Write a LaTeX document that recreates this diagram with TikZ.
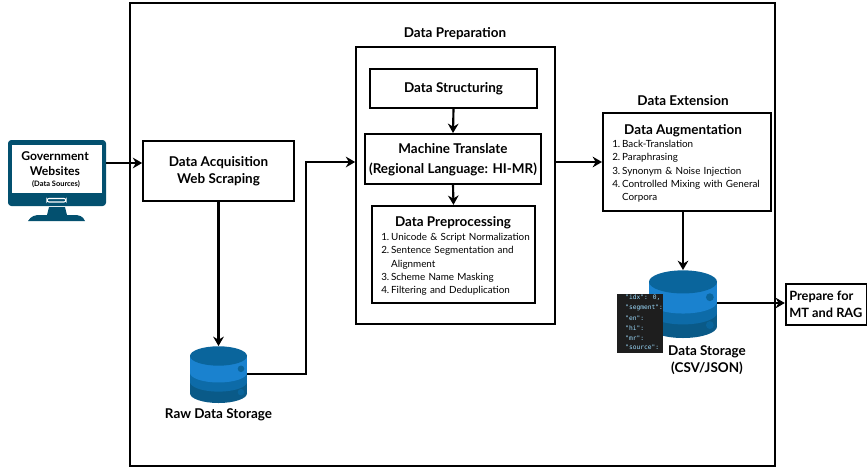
\documentclass[tikz,border=0pt]{standalone}
\usepackage{fontspec}
\setmainfont{Lato}
\newfontfamily\jsonfont{DejaVu Sans Mono}
\usetikzlibrary{arrows.meta,calc}
\definecolor{monblue}{HTML}{03506F}
\definecolor{dbtop}{HTML}{0A659C}
\definecolor{dbmid}{HTML}{1A82CF}
\definecolor{dblay}{HTML}{0D6BA8}
\definecolor{dblow}{HTML}{0A5A88}
\definecolor{jsonbg}{HTML}{1E1E1E}
\definecolor{jsonkey}{HTML}{9CDCFE}
\tikzset{
  px/.style={x=0.75pt,y=-0.75pt},
  boxed/.style={draw=black,line width=1.5pt,fill=white},
  flow/.style={draw=black,line width=1.6pt,-{Stealth[length=7pt,width=8pt]}},
  title/.style={font=\fontsize{10.1}{12}\selectfont\bfseries,align=center,inner sep=0pt},
  listing/.style={font=\fontsize{7.4}{10}\selectfont,align=left,anchor=north west,inner sep=0pt,text width=#1},
  listing/.default=125pt,
  jsontext/.style={font=\fontsize{4.7}{6}\jsonfont,text=jsonkey,anchor=west,inner sep=0pt}
}
\newcommand{\numd}[1]{\makebox[7.4pt][l]{#1.}}
\newcommand{\dbdraw}[4]{% cx, top, rx, height
  \begin{scope}[shift={(#1,#2)}]
    \def\rx{#3}\def\hh{#4}
    \pgfmathsetmacro\ry{0.17*\hh}
    \pgfmathsetmacro\ea{0.175*\hh}
    \pgfmathsetmacro\eb{0.47*\hh}
    \pgfmathsetmacro\ec{0.63*\hh}
    \pgfmathsetmacro\ed{0.83*\hh}
    \fill[dblow] (-\rx,\ec) rectangle (\rx,\ed);
    \fill[dblow] (0,\ed) ellipse[x radius=\rx,y radius=\ry];
    \fill[dblay] (-\rx,\eb) rectangle (\rx,\ec);
    \fill[dblay] (0,\ec) ellipse[x radius=\rx,y radius=\ry];
    \fill[dbmid] (-\rx,\ea) rectangle (\rx,\eb);
    \fill[dbmid] (0,\eb) ellipse[x radius=\rx,y radius=\ry];
    \fill[dbtop] (0,\ea) ellipse[x radius=\rx,y radius=\ry];
    \fill[dbtop] (0.79*\rx,0.40*\hh) circle[radius=0.115*\rx];
    \fill[dbtop] (0.79*\rx,0.81*\hh) circle[radius=0.115*\rx];
  \end{scope}
}
\begin{document}
\begin{tikzpicture}[px]
\useasboundingbox (0,0) rectangle (867,468);
\fill[white] (0,0) rectangle (867,468);
% outer frame
\draw[line width=1.4pt] (130,3) rectangle (775,466);
% monitor
\fill[monblue,rounded corners=2.5pt] (8,140) rectangle (106,206);
\fill[white] (12,145) rectangle (102,193);
\draw[white,line width=0.8pt,rounded corners=1.5pt] (47,198.5) rectangle (66,202);
\fill[monblue] (49,207) -- (65,207) -- (67,215) -- (47,215) -- cycle;
\fill[monblue] (28,221) .. controls (31,216) and (35,215) .. (40,215) -- (74,215) .. controls (79,215) and (83,216) .. (85,221) -- cycle;
\coordinate (monitorR) at (106,163);
\node[title,font=\fontsize{9.1}{11.5}\selectfont\bfseries] (gov) at (55,163.5) {Government\\Websites};
\node[inner sep=0pt,font=\fontsize{5.6}{7}\selectfont\bfseries] (govsub) at (56,184) {(Data Sources)};
% boxes
\node[boxed,minimum width=113pt,minimum height=45pt,inner sep=0pt] (acq) at (218.5,171) {};
\node[title,align=center] (acqt) at (218.5,171.5) {Data Acquisition\\[1pt]Web Scraping};
\node[boxed,minimum width=149pt,minimum height=208pt,inner sep=0pt] (prep) at (455.5,185.5) {};
\node[title] (preplbl) at (455,34) {Data Preparation};
\node[boxed,minimum width=125pt,minimum height=29pt,inner sep=0pt,title] (struct) at (453.5,88.5) {Data Structuring};
\node[boxed,minimum width=132pt,minimum height=37.5pt,inner sep=0pt] (mt) at (453,159) {};
\node[title] (mtt) at (453,160) {Machine Translate\\[3pt](Regional Language: HI-MR)};
\node[boxed,minimum width=122pt,minimum height=73pt,inner sep=0pt] (pre) at (453.5,254.5) {};
\node[title] (pret) at (453,222.5) {Data Preprocessing};
\node[listing] (prel) at (381,233) {\numd1Unicode \& Script Normalization\\\numd2Sentence Segmentation and\\\hspace*{7.4pt}Alignment\\\numd3Scheme Name Masking\\\numd4Filtering and Deduplication};
\node[title] (extl) at (683,101) {Data Extension};
\node[boxed,minimum width=126pt,minimum height=73.5pt,inner sep=0pt] (aug) at (687,162) {};
\node[title] (augt) at (683,131) {Data Augmentation};
\node[listing=118pt] (augl) at (612,140) {\numd1Back-Translation\\\numd2Paraphrasing\\\numd3Synonym \& Noise Injection\\\numd4Controlled Mixing with General\\\hspace*{7.4pt}Corpora};
\node[boxed,minimum width=61pt,minimum height=31pt,inner sep=0pt] (mtrag) at (826.5,304.5) {};
\node[title,align=left,anchor=west,font=\fontsize{9.6}{12.8}\selectfont\bfseries] (mtragt) at (789,304.5) {Prepare for\\MT and RAG};
% raw db
\dbdraw{218.5}{346}{28.5}{57}
\coordinate (rawT) at (218.5,346);
\coordinate (rawR) at (247,374);
\node[title] (rawl) at (218.5,415) {Raw Data Storage};
% storage db
\dbdraw{683}{270}{34}{68}
\coordinate (stoT) at (683,270);
\coordinate (stoR) at (717,303);
\node[title,align=center] (stol) at (707,360) {Data Storage\\[1pt](CSV/JSON)};
% json
\fill[jsonbg] (617,294) rectangle (663,353);
\begin{scope}
\clip (617,294) rectangle (663,353);
\foreach \n/\t/\y in {a/"idx": 0\char44/298,b/"segment":/308,c/"en":/318,d/"hi":/328,e/"mr":/338,f/"source":/347}{
  \node[jsontext] (json\n) at (625,\y) {\t};
}
\end{scope}
% connectors
\draw[flow] (monitorR) -- (acq.west |- monitorR);
\draw[flow] (acq.south) -- (rawT);
\draw[flow] (rawR) -- (306,374) -- (306,162) -- (prep.west |- 0,162);
\draw[flow] (struct.south) -- (mt.north);
\draw[flow] (mt.south) -- (pre.north);
\draw[flow] (prep.east |- 0,162) -- (aug.west |- 0,162);
\draw[flow] (aug.south -| stoT) -- (stoT);
\draw[flow] (stoR) -- (mtrag.west |- stoR);
\end{tikzpicture}
\end{document}
